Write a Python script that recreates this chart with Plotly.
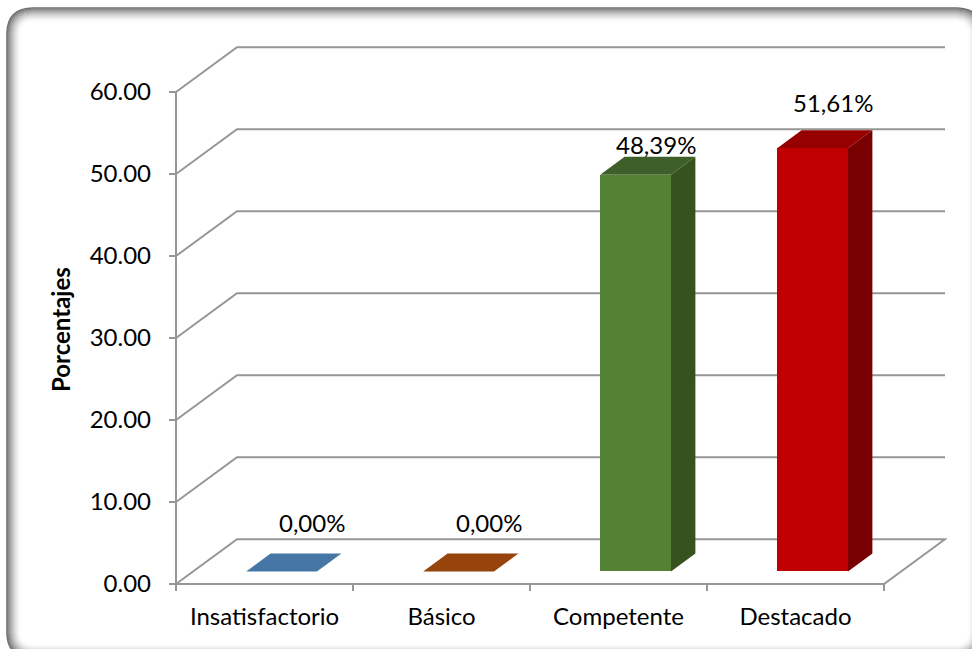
import plotly.graph_objects as go

# ---------------- data ----------------
categories = ["Insatisfactorio", "Básico", "Competente", "Destacado"]
values = [0.00, 0.00, 48.39, 51.61]
y_ticks = [0, 10, 20, 30, 40, 50, 60]
y_tick_labels = ["0.00", "10.00", "20.00", "30.00", "40.00", "50.00", "60.00"]
y_title = "Porcentajes"

# ---------------- styles ----------------
front_colors = ["#4676A5", "#96440C", "#548235", "#C00000"]
side_colors = ["#34587C", "#70330A", "#36521F", "#780000"]
top_colors = ["#4676A5", "#96440C", "#3E5F29", "#960000"]
label_nudge = [(30, 49), (30, 49), (20, 30), (20, 46)]  # px right, px up
GRID = "#969696"
FONT = "Lato"
FS = 24

W, H = 972, 649
X0PX, Y0PX = 176, 584          # pixel of x=0 / y=0 on the front plane
XS, YS = 177.0, 8.2            # px per category / px per unit
PL, PR, PT, PB = 167, 947, 44, 593   # plot area in px
DX = 61 / XS                   # depth offset (categories)
DY = 44.8 / YS                 # depth offset (units)
FZ0, FZ1 = 0.28, 0.68          # bar front/back as fraction of depth
BW = 0.4

x_range = [(PL - X0PX) / XS, (PR - X0PX) / XS]
y_range = [(Y0PX - PB) / YS, (Y0PX - PT) / YS]

fig = go.Figure()
shapes = []


def seg(pts, color=GRID, width=2):
    path = "M " + " L ".join(f"{x},{y}" for x, y in pts)
    shapes.append(dict(type="path", path=path, xref="x", yref="y",
                       line=dict(color=color, width=width), layer="below"))


n = len(categories)
# gridlines / walls
for v in y_ticks:
    if v == 0:
        seg([(0, 0), (n, 0), (n + DX, DY), (DX, DY), (0, 0)])
    else:
        seg([(0, v), (DX, v + DY), (n + DX, v + DY)])
# front value axis
seg([(0, 0), (0, max(y_ticks))])
for v in y_ticks:
    seg([(-7 / XS, v), (0, v)])
for k in range(n + 1):
    seg([(k, 0), (k, -7 / YS)])

# bars
b0 = FZ0 * DY
ddx = (FZ1 - FZ0) * DX
ddy = (FZ1 - FZ0) * DY
for i, (c, v) in enumerate(zip(categories, values)):
    xc = i + 0.5 + FZ0 * DX
    xl, xr = xc - BW / 2, xc + BW / 2
    t0 = b0 + v
    fig.add_trace(go.Bar(x=[xc], y=[v], base=[b0], width=BW,
                         marker=dict(color=front_colors[i], line=dict(width=0)),
                         showlegend=False, hoverinfo="skip"))
    if v > 0:
        fig.add_trace(go.Scatter(
            x=[xr, xr + ddx, xr + ddx, xr, xr],
            y=[b0, b0 + ddy, t0 + ddy, t0, b0],
            fill="toself", fillcolor=side_colors[i], mode="lines",
            line=dict(width=0, color=side_colors[i]), showlegend=False, hoverinfo="skip"))
    fig.add_trace(go.Scatter(
        x=[xl, xr, xr + ddx, xl + ddx, xl],
        y=[t0, t0, t0 + ddy, t0 + ddy, t0],
        fill="toself", fillcolor=top_colors[i], mode="lines",
        line=dict(width=0, color=top_colors[i]), showlegend=False, hoverinfo="skip"))

# data labels
annotations = []
for i, v in enumerate(values):
    xc = i + 0.5 + FZ0 * DX
    annotations.append(dict(
        x=xc, y=b0 + v, xref="x", yref="y",
        text=f"{v:.2f}".replace(".", ",") + "%",
        showarrow=False, xshift=label_nudge[i][0], yshift=label_nudge[i][1],
        font=dict(family=FONT, size=FS, color="#000")))

# axis title
pw, ph = PR - PL, PB - PT
annotations.append(dict(
    x=(60 - PL) / pw, y=(PB - 329) / ph, xref="paper", yref="paper",
    xanchor="center", yanchor="middle",
    text=f"<b>{y_title}</b>", textangle=-90, showarrow=False,
    font=dict(family=FONT, size=24, color="#000")))

# rounded bevel frame (paper coords)
def rr_path(x0, y0, x1, y1, r):
    def P(px, py):
        return f"{(px - PL) / pw},{(PB - py) / ph}"
    return (f"M {P(x0 + r, y0)} L {P(x1 - r, y0)} Q {P(x1, y0)} {P(x1, y0 + r)} "
            f"L {P(x1, y1 - r)} Q {P(x1, y1)} {P(x1 - r, y1)} "
            f"L {P(x0 + r, y1)} Q {P(x0, y1)} {P(x0, y1 - r)} "
            f"L {P(x0, y0 + r)} Q {P(x0, y0)} {P(x0 + r, y0)} Z")

NB = 14
for k in range(NB):
    g = int(255 - 145 * (1 - k / NB) ** 1.5)
    shapes.append(dict(type="path", xref="paper", yref="paper", layer="below",
                       path=rr_path(7 + k, 8 + k, 982 - k, 658 - k, max(26 - k, 6)),
                       line=dict(color=f"rgb({g},{g},{g})", width=1.6)))

fig.update_layout(
    width=W, height=H,
    margin=dict(l=PL, r=W - PR, t=PT, b=H - PB, autoexpand=False),
    paper_bgcolor="white", plot_bgcolor="rgba(0,0,0,0)",
    showlegend=False, bargap=0,
    shapes=shapes, annotations=annotations,
    font=dict(family=FONT, size=FS, color="#000"),
    xaxis=dict(range=x_range, tickvals=[i + 0.5 for i in range(n)], ticktext=categories,
               ticks="", showgrid=False, zeroline=False, showline=False,
               ticklabelstandoff=7, tickfont=dict(family=FONT, size=FS, color="#000"),
               fixedrange=True),
    yaxis=dict(range=y_range, tickvals=y_ticks, ticktext=y_tick_labels,
               ticks="", showgrid=False, zeroline=False, showline=False,
               ticklabelstandoff=15, tickfont=dict(family=FONT, size=FS, color="#000"),
               fixedrange=True),
)

fig.write_html("out.html")
